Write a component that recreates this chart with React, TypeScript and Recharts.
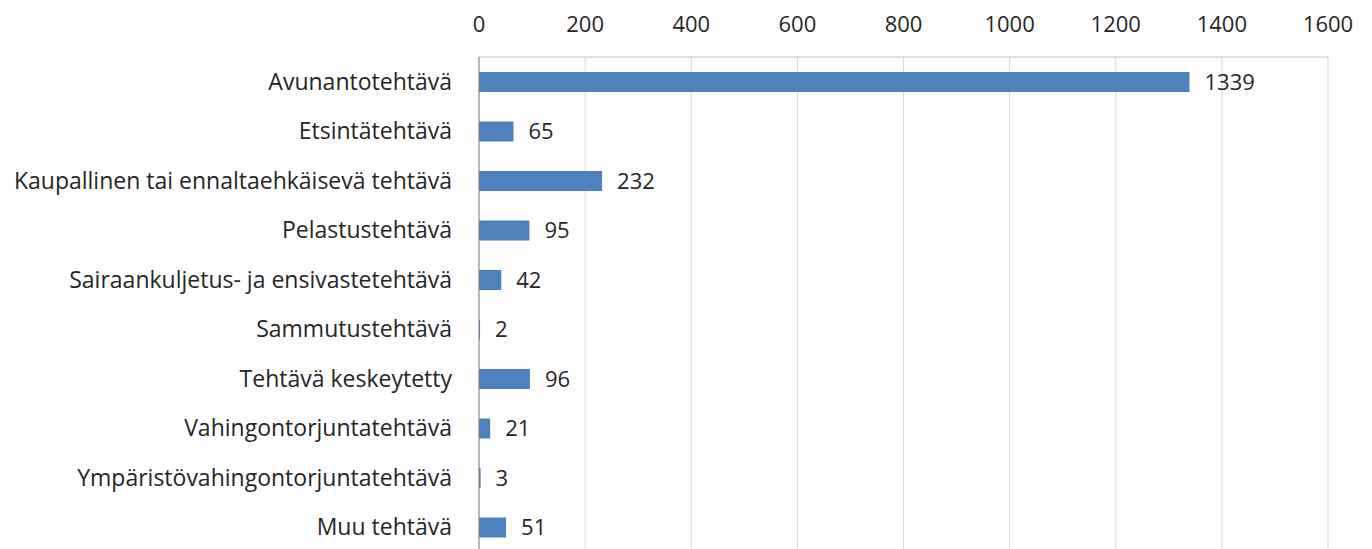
import { Bar, BarChart, CartesianGrid, LabelList, XAxis, YAxis } from "recharts";

const categories = [
  "Avunantotehtävä",
  "Etsintätehtävä",
  "Kaupallinen tai ennaltaehkäisevä tehtävä",
  "Pelastustehtävä",
  "Sairaankuljetus- ja ensivastetehtävä",
  "Sammutustehtävä",
  "Tehtävä keskeytetty",
  "Vahingontorjuntatehtävä",
  "Ympäristövahingontorjuntatehtävä",
  "Muu tehtävä",
];

const counts = [1339, 65, 232, 95, 42, 2, 96, 21, 3, 51];

const xTicks = [0, 200, 400, 600, 800, 1000, 1200, 1400, 1600];

const data = categories.map((name, i) => ({ name, value: counts[i] }));

const font = "'Open Sans', sans-serif";
const textColor = "#262626";

export default function App() {
  return (
    <div
      style={{
        position: "absolute",
        left: 0,
        top: 0,
        width: 1372,
        height: 549,
        overflow: "hidden",
        background: "#fff",
      }}
    >
      <BarChart
        width={1372}
        height={560}
        data={data}
        layout="vertical"
        margin={{ top: 0, right: 44, bottom: 8, left: 0 }}
      >
        <CartesianGrid horizontal={false} stroke="#d9d9d9" />
        <XAxis
          type="number"
          orientation="top"
          domain={[0, 1600]}
          ticks={xTicks}
          height={57}
          tickLine={false}
          axisLine={{ stroke: "#bfbfbf" }}
          tickMargin={19}
          tick={{ fill: textColor, fontSize: 22, fontFamily: font }}
        />
        <YAxis
          type="category"
          dataKey="name"
          width={479}
          tickLine={false}
          axisLine={{ stroke: "#868686" }}
          tickMargin={21}
          interval={0}
          tick={{ fill: textColor, fontSize: 23, fontFamily: font }}
        />
        <Bar dataKey="value" fill="#4f81bd" barSize={20} isAnimationActive={false}>
          <LabelList
            dataKey="value"
            position="right"
            offset={15}
            fill={textColor}
            fontSize={22}
            fontFamily={font}
          />
        </Bar>
      </BarChart>
    </div>
  );
}
